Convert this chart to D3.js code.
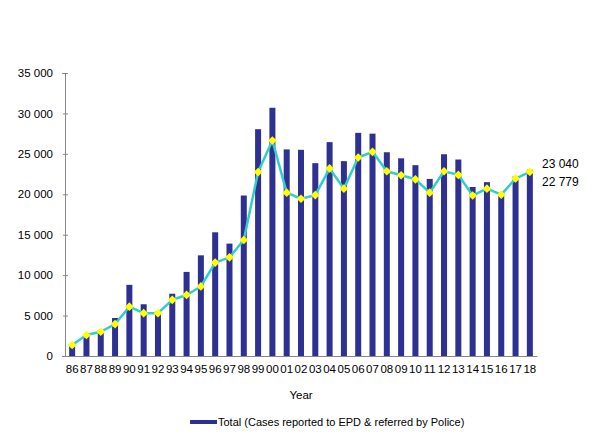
<!DOCTYPE html>
<html lang="en">
<head>
    <meta charset="UTF-8">
    <title>Cases reported to EPD & referred by Police</title>
    <script src="https://d3js.org/d3.v7.min.js"></script>
    <style>
        body { margin: 0; background: #fff; }
        svg { display: block; font-family: "Liberation Sans", Arial, sans-serif; }
        .axis text { font-size: 11.5px; fill: #000; }
        .axis path, .axis line { stroke: #888; }
    </style>
</head>
<body>
    <svg id="chart" width="598" height="448"></svg>

    <script>
        // Data
        const years = ["86","87","88","89","90","91","92","93","94","95","96","97","98","99","00","01","02",
                       "03","04","05","06","07","08","09","10","11","12","13","14","15","16","17","18"];
        const totalCases = [1200, 2700, 3200, 4700, 8800, 6400, 5500, 7700, 10400, 12450, 15300, 13900, 19850, 28050, 30700, 25550, 25500,
                            23850, 26450, 24100, 27600, 27500, 25200, 24450, 23600, 21900, 24950, 24300, 20900, 21500, 20100, 22200, 23040];
        const lineValues = [1360, 2600, 3000, 3950, 6100, 5300, 5300, 6950, 7550, 8600, 11550, 12200, 14350, 22750, 26650, 20200, 19450,
                            19900, 23200, 20700, 24550, 25250, 22850, 22350, 21850, 20200, 22850, 22400, 19850, 20700, 19950, 21950, 22779];
        const yTicks = [0, 5000, 10000, 15000, 20000, 25000, 30000, 35000];
        const legendLabel = "Total (Cases reported to EPD & referred by Police)";
        const endLabels = ["23 040", "22 779"];

        const svg = d3.select("#chart");
        const margin = { left: 65, right: 61, top: 73, bottom: 92 };
        const width = 598, height = 448;

        // Scales
        const x = d3.scaleBand()
            .domain(years)
            .range([margin.left, width - margin.right])
            .paddingInner(0.58)
            .paddingOuter(0.29);

        const y = d3.scaleLinear()
            .domain([0, 35000])
            .range([height - margin.bottom, margin.top]);

        const fmt = v => d3.format(",")(v).replace(/,/g, " ");

        // Y axis
        const yAxis = svg.append("g")
            .attr("class", "axis")
            .attr("transform", `translate(${margin.left},0)`)
            .call(d3.axisLeft(y).tickValues(yTicks).tickFormat(fmt).tickSize(3).tickPadding(9));
        yAxis.selectAll(".tick line").attr("x2", 3).attr("x1", -2);

        // Bars
        svg.append("g")
            .selectAll("rect")
            .data(years)
            .enter()
            .append("rect")
            .attr("x", d => x(d))
            .attr("y", (d, i) => y(totalCases[i]))
            .attr("width", x.bandwidth())
            .attr("height", (d, i) => y(0) - y(totalCases[i]))
            .attr("fill", "#2e3192");

        // X axis
        svg.append("g")
            .attr("class", "axis")
            .attr("transform", `translate(0,${y(0)})`)
            .call(d3.axisBottom(x).tickSize(0).tickPadding(9).tickSizeOuter(0));

        // Line with diamond markers
        const line = d3.line()
            .x((d, i) => x(years[i]) + x.bandwidth() / 2)
            .y(d => y(d));

        svg.append("path")
            .datum(lineValues)
            .attr("d", line)
            .attr("fill", "none")
            .attr("stroke", "#33cccc")
            .attr("stroke-width", 2.5)
            .attr("stroke-linejoin", "round");

        svg.append("g")
            .selectAll("path")
            .data(lineValues)
            .enter()
            .append("path")
            .attr("d", d3.symbol().type(d3.symbolDiamond2).size(48))
            .attr("transform", (d, i) => `translate(${x(years[i]) + x.bandwidth() / 2},${y(d)})`)
            .attr("fill", "#ffff00");

        // End value labels
        svg.selectAll(".end-label")
            .data(endLabels)
            .enter()
            .append("text")
            .attr("class", "end-label")
            .attr("x", 542)
            .attr("y", (d, i) => 168 + i * 18)
            .attr("font-size", "12px")
            .text(d => d);

        // Axis title
        svg.append("text")
            .attr("x", (margin.left + width - margin.right) / 2)
            .attr("y", 399)
            .attr("text-anchor", "middle")
            .attr("font-size", "11.5px")
            .text("Year");

        // Legend
        const legend = svg.append("g").attr("transform", "translate(190,422)");
        legend.append("rect")
            .attr("x", 0).attr("y", -2)
            .attr("width", 27).attr("height", 4)
            .attr("fill", "#2e3192");
        legend.append("text")
            .attr("x", 28).attr("y", 4)
            .attr("font-size", "11px")
            .text(legendLabel);
    </script>
</body>
</html>
